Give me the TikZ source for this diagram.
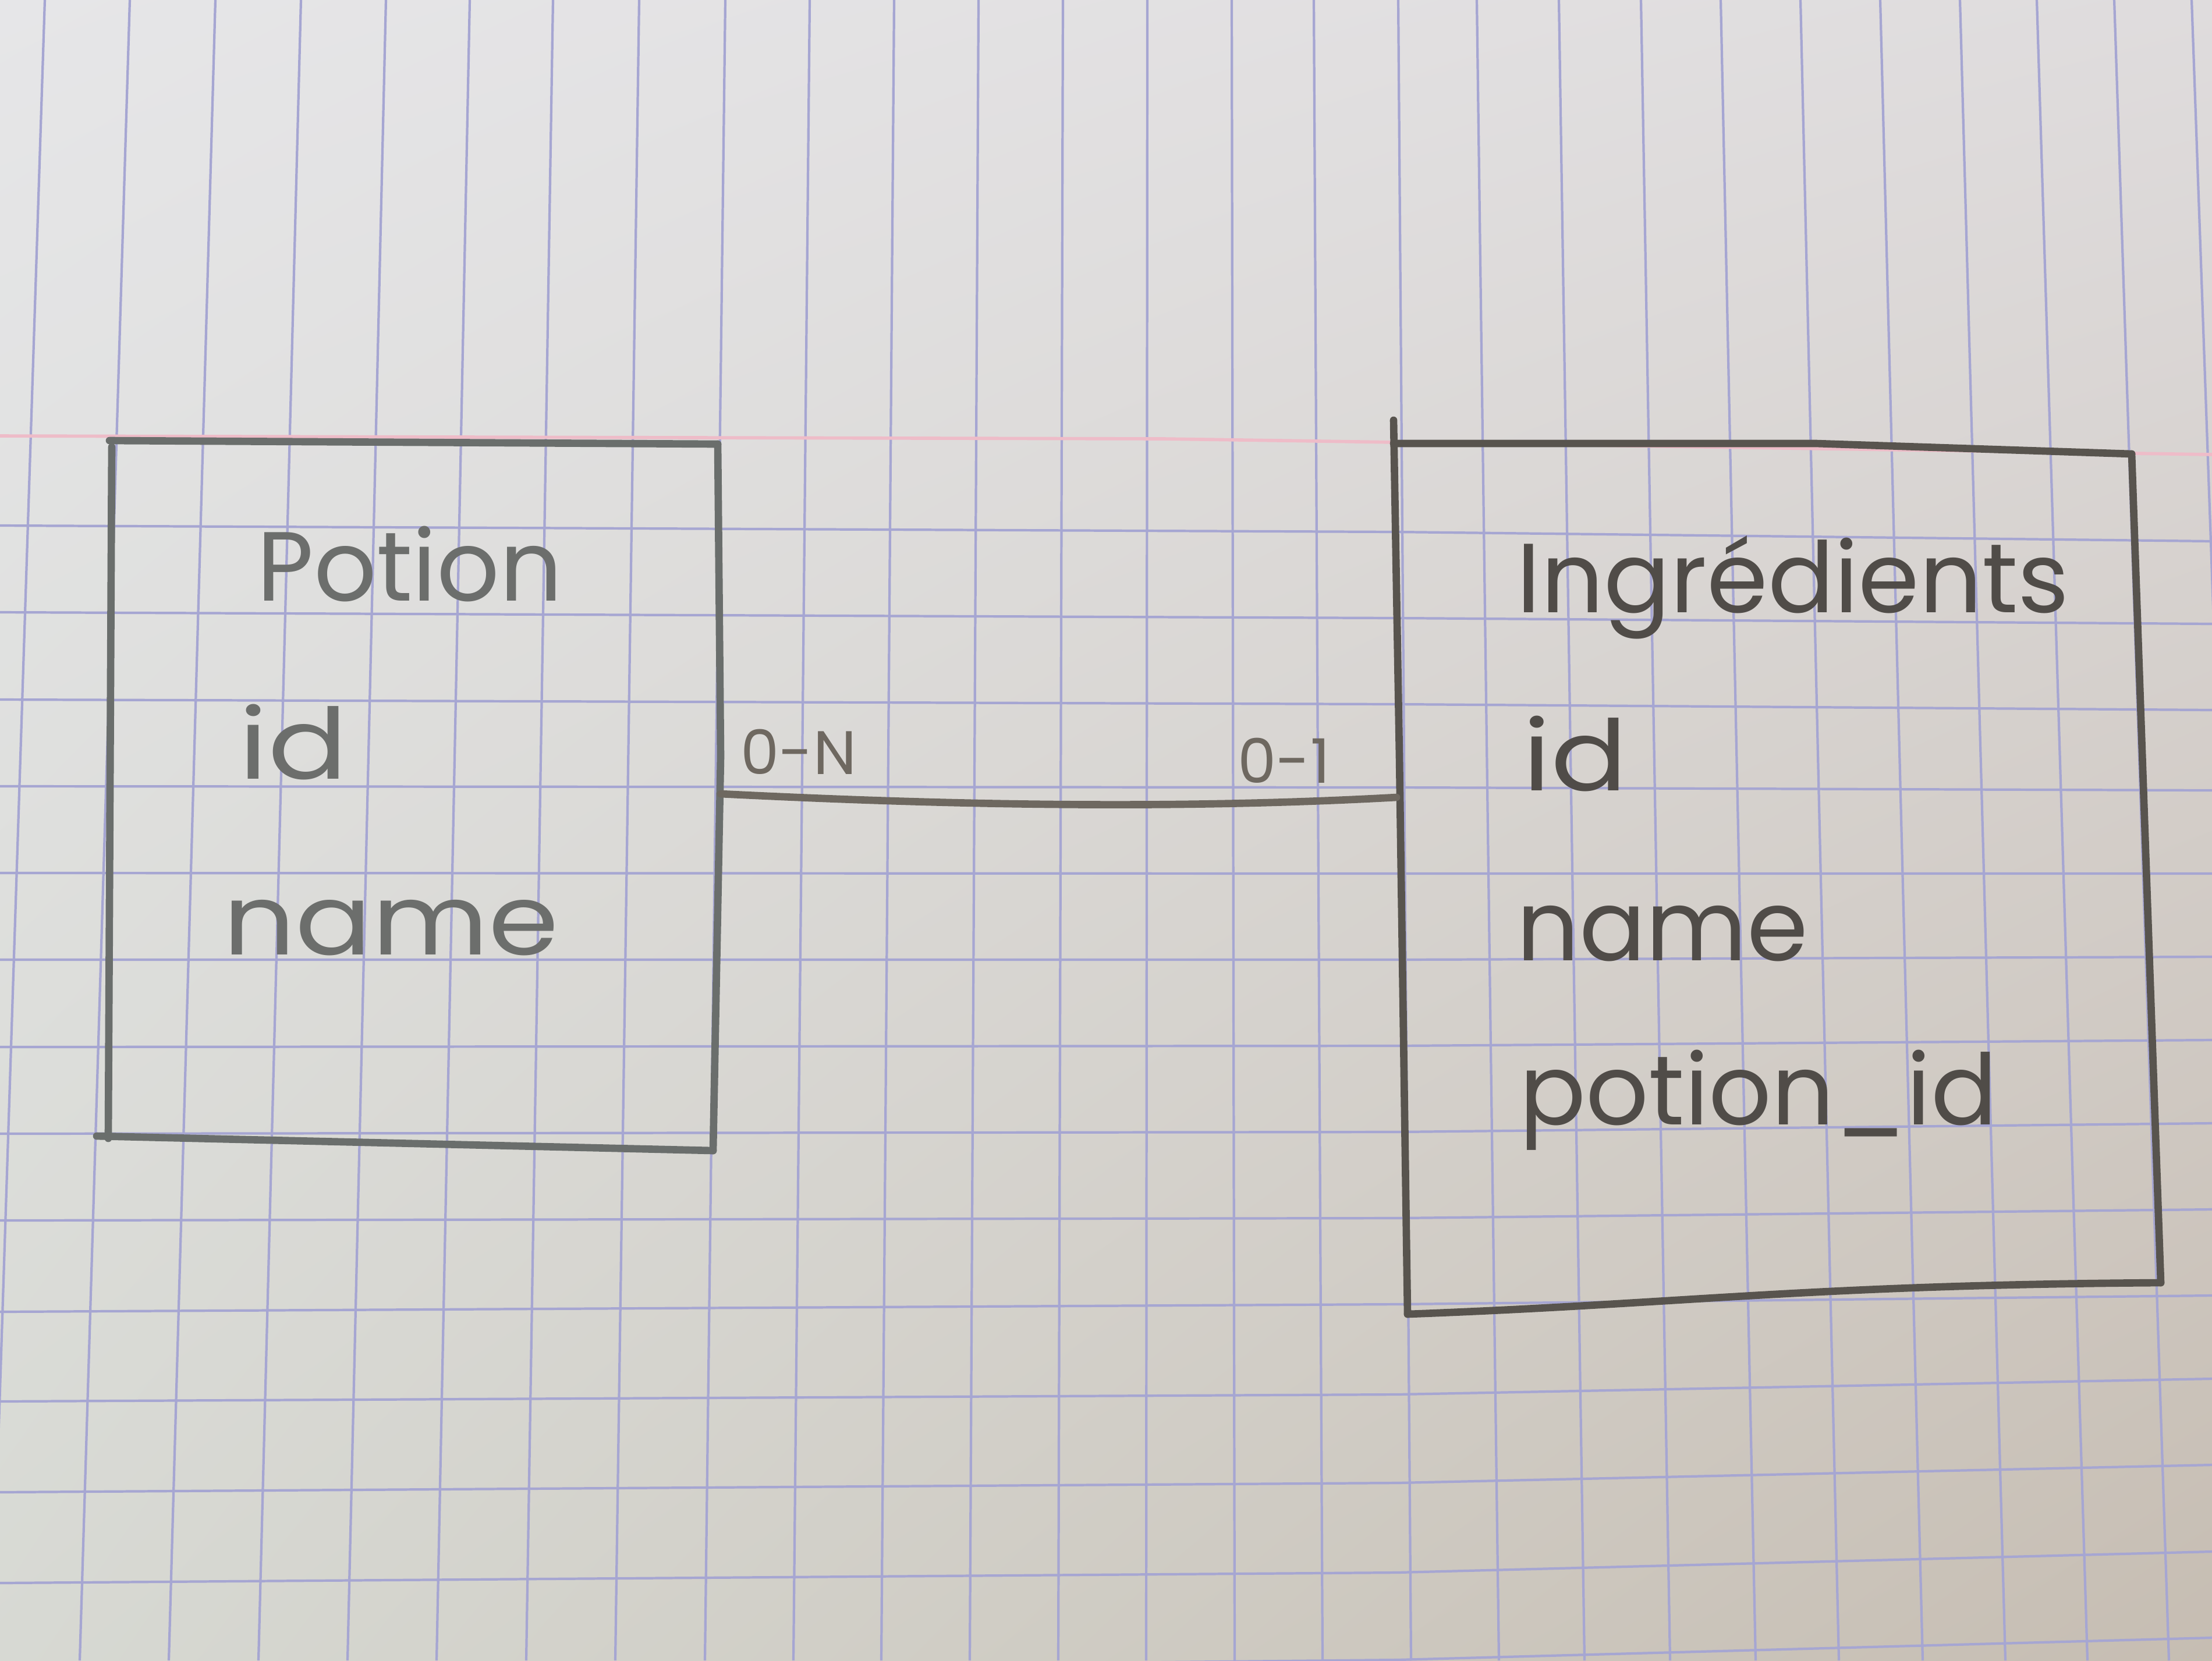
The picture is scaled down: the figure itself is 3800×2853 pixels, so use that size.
\documentclass[tikz,border=0pt]{standalone}
\usepackage{fontspec}
\usepackage{graphicx}
\setmainfont{Poppins}
\usetikzlibrary{shadings}
\definecolor{bgUL}{RGB}{230,230,232}
\definecolor{bgUR}{RGB}{223,220,221}
\definecolor{bgLL}{RGB}{215,217,211}
\definecolor{bgLR}{RGB}{198,189,178}
\definecolor{gridc}{RGB}{166,166,210}
\definecolor{pinkc}{RGB}{238,188,200}
\definecolor{penL}{RGB}{106,110,108}
\definecolor{penR}{RGB}{88,84,78}
\definecolor{penC}{RGB}{110,104,96}
\definecolor{inkL}{RGB}{108,110,108}
\definecolor{inkR}{RGB}{80,76,72}
\begin{document}
\begin{tikzpicture}[x=0.01cm,y=-0.01cm,
  gridline/.style={draw=gridc,line width=1.2pt},
  marginline/.style={draw=pinkc,line width=1.6pt},
  pencil/.style={line width=3.6pt,line cap=round,line join=round},
  attr/.style={anchor=base west,inner sep=0pt,font=\fontsize{48}{56}\selectfont},
  card/.style={anchor=base west,inner sep=0pt,font=\fontsize{30}{34}\selectfont,text=penC}]
\useasboundingbox (0,0) rectangle (3800,2853);
\shade[upper left=bgUL,upper right=bgUR,lower left=bgLL,lower right=bgLR] (0,0) rectangle (3800,2853);
% vertical grid lines
\foreach \a/\b in {77/-15,223/137,370/290,517/444,663/597,807/750,950/904,1098/1057,1246/1211,1391/1363,1536/1514,1681/1666,1826/1818,1971/1969,2116/2121,2257/2272,2402/2424,2537/2575,2678/2722,2819/2869,2956/3016,3093/3159,3230/3303,3367/3445,3499/3586,3632/3726,3765/3866}
  \draw[gridline] (\a,0) -- (\b,2853);
% horizontal grid lines
\foreach \l/\m/\r in {903/914/930,1052/1062/1072,1202/1210/1220,1351/1353/1358,1500/1501/1501,1649/1649/1644,1799/1797/1787,1948/1945/1930,2097/2093/2078,2254/2241/2226,2408/2396/2369,2564/2548/2517,2720/2702/2666,2876/2852/2814}
  \draw[gridline] (0,\l) -- (2400,\m) -- (3800,\r);
% margin line
\draw[marginline] (0,749) -- (2000,754) -- (3800,781);
% Potion box
\coordinate (pA) at (188,757);
\coordinate (pB) at (1233,763);
\coordinate (pC) at (1225,1977);
\coordinate (pD) at (166,1952);
\draw[pencil,draw=penL] (pA) -- (pB);
\draw[pencil,draw=penL] (pB) -- (1238,1300) -- (pC);
\draw[pencil,draw=penL] (192,768) -- (186,1956);
\draw[pencil,draw=penL] (pD) -- (pC);
% Ingredients box
\coordinate (qA) at (2394,722);
\coordinate (qB) at (3662,780);
\coordinate (qC) at (3712,2204);
\coordinate (qD) at (2418,2258);
\draw[pencil,draw=penR] (2394,762) -- (3120,762) -- (qB);
\draw[pencil,draw=penR] (qB) -- (qC);
\draw[pencil,draw=penR] (qD) .. controls (2900,2240) and (3100,2208) .. (qC);
\draw[pencil,draw=penR] (qA) -- (2404,1300) -- (qD);
% texts
\node[attr,text=inkL] (potion) at (441,1032) {Potion};
\node[attr,text=inkL] (pid) at (410,1338) {\scalebox{1.2}[1]{id}};
\node[attr,text=inkL] (pname) at (383,1640) {\scalebox{1.15}[1]{name}};
\node[attr,text=inkR] (ingr) at (2605,1052) {Ingrédients};
\node[attr,text=inkR] (iid) at (2616,1358) {\scalebox{1.15}[1]{id}};
\node[attr,text=inkR] (iname) at (2605,1650) {name};
\node[attr,text=inkR] (ipid) at (2610,1932) {potion\_id};
% connector
\coordinate (cL) at (1238,1364);
\coordinate (cR) at (2399,1370);
\draw[pencil,draw=penC] (cL) .. controls (1600,1382) and (2000,1392) .. (cR);
\node[card] (cardL) at (1272,1330) {0-N};
\node[card] (cardR) at (2126,1345) {0-1};
\end{tikzpicture}
\end{document}
